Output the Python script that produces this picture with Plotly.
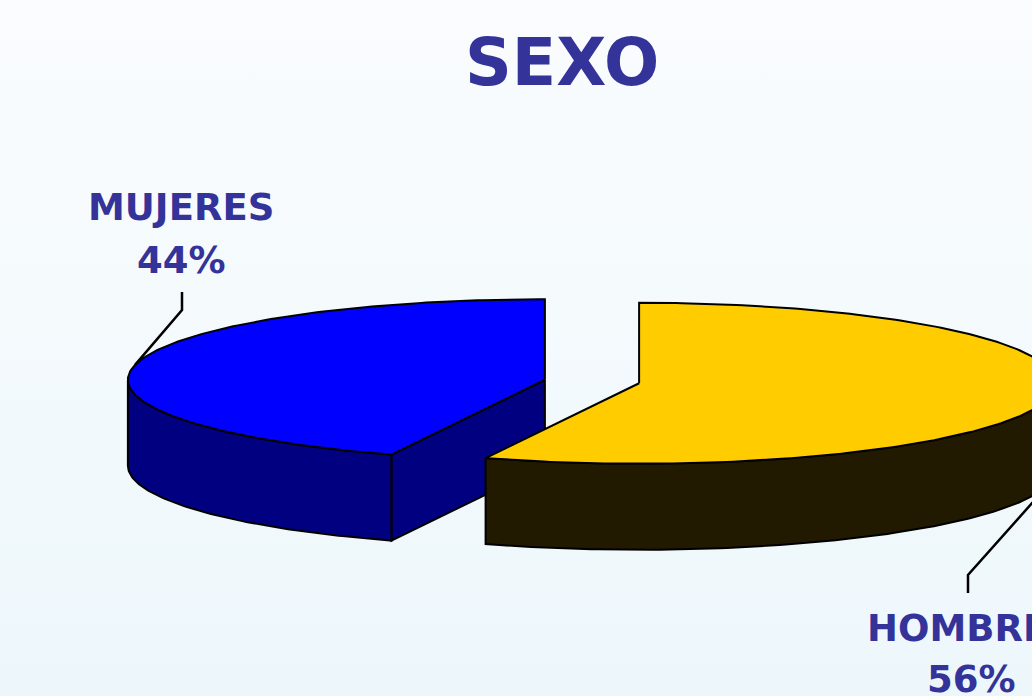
import numpy as np
import plotly.graph_objects as go

# ---- data ----
categories = ["MUJERES", "HOMBRES"]
values = [44, 56]
pct_labels = ["44%", "56%"]
top_colors = ["#0000FF", "#FFCC00"]
side_colors = ["#000080", "#211A00"]

# ---- layout / geometry parameters (pixels) ----
W, H = 1032, 696
CX, CY = 592, 381.5      # common pie centre (top face)
RX, RY = 417, 80.5       # ellipse semi-axes
DEPTH = 86               # pie thickness
EXPLODE = 0.115          # explosion as fraction of radius
START = 90.0             # start angle (deg), counter-clockwise
TEXT_COLOR = "#333399"
FONT = "DejaVu Sans"

fig = go.Figure()

# background gradient (light at top, faint blue at bottom)
fig.add_trace(go.Scatter(
    x=[0, W, W, 0, 0], y=[0, 0, H, H, 0], mode="lines", fill="toself",
    line=dict(width=0, color="rgba(0,0,0,0)"),
    fillgradient=dict(type="vertical", colorscale=[[0, "#EDF7FB"], [1, "#FAFCFE"]]),
    hoverinfo="skip", showlegend=False))


def rim(c, t, dz=0.0):
    r = np.radians(t)
    return c[0] + RX * np.cos(r), c[1] - RY * np.sin(r) + dz


def poly(xs, ys, color, name):
    fig.add_trace(go.Scatter(
        x=list(xs) + [xs[0]], y=list(ys) + [ys[0]], mode="lines", fill="toself",
        fillcolor=color, line=dict(color="black", width=2), name=name,
        hoverinfo="skip", showlegend=False))


total = sum(values)
t0 = START
bisectors = []
centers = []
for cat, v, ct, cs in zip(categories, values, top_colors, side_colors):
    span = v / total * 360.0
    t1 = t0 + span
    bis = (t0 + t1) / 2
    br = np.radians(bis)
    c = (CX + EXPLODE * RX * np.cos(br), CY - EXPLODE * RY * np.sin(br))
    bisectors.append(bis)
    centers.append(c)

    # radial cut faces
    for ta, normal in ((t0, t0 - 90), (t1, t1 + 90)):
        if np.sin(np.radians(normal)) < -1e-6:
            px, py = rim(c, ta)
            poly([c[0], px, px, c[0]], [c[1], py, py + DEPTH, c[1] + DEPTH], cs, cat)

    # outer curved wall (front half only)
    for k in range(-1, 3):
        a = max(t0, 180 + 360 * k)
        b = min(t1, 360 + 360 * k)
        if b > a:
            ts = np.linspace(a, b, 120)
            xs_top, ys_top = rim(c, ts)
            xs_bot, ys_bot = rim(c, ts[::-1], DEPTH)
            poly(np.concatenate([xs_top, xs_bot]), np.concatenate([ys_top, ys_bot]), cs, cat)

    # top face
    ts = np.linspace(t0, t1, 240)
    xs, ys = rim(c, ts)
    poly(np.concatenate([[c[0]], xs]), np.concatenate([[c[1]], ys]), ct, cat)
    t0 = t1

# ---- labels with leader lines ----
label_pos = [(181, 207, 260), (971, 628, 679)]   # x, name-centre y, pct-centre y
annotations = [dict(x=562, y=62, text="<b>SEXO</b>", showarrow=False,
                    font=dict(family=FONT, size=65, color=TEXT_COLOR),
                    xref="x", yref="y", xanchor="center", yanchor="middle")]
for i, (cat, pct) in enumerate(zip(categories, pct_labels)):
    lx, ny, py = label_pos[i]
    for txt, yy in ((cat, ny), (pct, py)):
        annotations.append(dict(x=lx, y=yy, text=f"<b>{txt}</b>", showarrow=False,
                                font=dict(family=FONT, size=37, color=TEXT_COLOR),
                                xref="x", yref="y", xanchor="center", yanchor="middle"))
    c = centers[i]
    bis = bisectors[i]
    if i == 0:
        ex, ey = rim(c, bis)
        xs = [182, 182, ex]
        ys = [292, 310, ey]
    else:
        ex, ey = rim(c, bis, DEPTH)
        xs = [968, 968, ex]
        ys = [593, 575, ey]
    fig.add_trace(go.Scatter(x=xs, y=ys, mode="lines", line=dict(color="black", width=2.5),
                             hoverinfo="skip", showlegend=False))

fig.update_layout(
    width=W, height=H, margin=dict(l=0, r=0, t=0, b=0),
    paper_bgcolor="#F7FBFD", plot_bgcolor="#F7FBFD",
    xaxis=dict(range=[0, W], visible=False, fixedrange=True),
    yaxis=dict(range=[H, 0], visible=False, fixedrange=True),
    annotations=annotations, showlegend=False,
)
fig.write_html("out.html", config={"displayModeBar": False})
